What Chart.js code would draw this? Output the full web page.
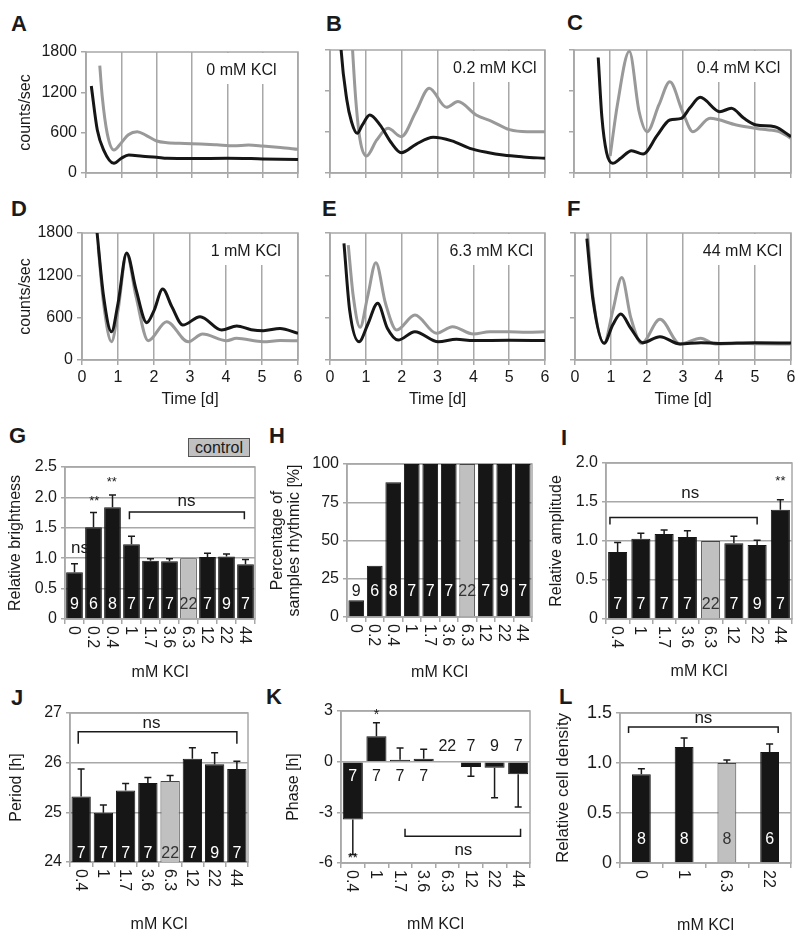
<!DOCTYPE html>
<html>
<head>
<meta charset="utf-8">
<title>KCl luminescence panels</title>
<script src="https://cdn.jsdelivr.net/npm/chart.js@4.4.1/dist/chart.umd.min.js"></script>
<style>
  body { margin: 0; background: #fff; }
  #page { position: relative; width: 800px; height: 937px; overflow: hidden; font-family: "Liberation Sans", Arial, sans-serif; color: #1a1a1a; }
  #page canvas { position: absolute; left: 0; top: 0; }
  .letter { position: absolute; font-size: 22px; line-height: 22px; font-weight: bold; }
  .control { position: absolute; left: 188px; top: 438px; width: 60px; height: 17px; line-height: 17px; background: #c0c0c0; border: 1px solid #555; font-size: 16px; text-align: center; }
</style>
</head>
<body>
<div id="page">
  <div class="letter" style="left:11px;top:13px">A</div>
  <div class="letter" style="left:326px;top:13px">B</div>
  <div class="letter" style="left:567px;top:12px">C</div>
  <div class="letter" style="left:11px;top:198px">D</div>
  <div class="letter" style="left:322px;top:198px">E</div>
  <div class="letter" style="left:567px;top:198px">F</div>
  <div class="letter" style="left:9px;top:425px">G</div>
  <div class="letter" style="left:269px;top:425px">H</div>
  <div class="letter" style="left:561px;top:427px">I</div>
  <div class="letter" style="left:11px;top:687px">J</div>
  <div class="letter" style="left:266px;top:686px">K</div>
  <div class="letter" style="left:559px;top:686px">L</div>
  <div class="control">control</div>
</div>
<script>
const W = 800, H = 937;
const FONT = "'Liberation Sans', Arial, sans-serif";
const INK = "#1a1a1a";
const GRID = "#a8a8a8";
const GRAY_LINE = "#999999";
const BLACK_LINE = "#161616";
const BAR = "#161616";
const CONTROL = "#c0c0c0";

// time courses: days / counts per sec, gray and black trace per panel
const aGrayT = [0.39, 0.46, 0.6, 0.79, 1.0, 1.2, 1.45, 1.7, 2.0, 2.3, 2.8, 3.24, 3.7, 4.18, 4.6, 5.0, 5.5, 6.0];
const aGrayV = [1596, 1135, 590, 342, 450, 570, 615, 560, 476, 451, 440, 432, 420, 406, 415, 402, 380, 352];
const aBlackT = [0.15, 0.32, 0.5, 0.79, 1.0, 1.21, 1.6, 2.0, 2.3, 3.0, 4.0, 5.0, 6.0];
const aBlackV = [1294, 640, 342, 144, 220, 268, 250, 235, 219, 215, 220, 210, 200];

const bGrayT = [0.6, 0.63, 0.72, 0.84, 1.02, 1.3, 1.62, 1.99, 2.4, 2.77, 3.25, 3.57, 4.08, 4.5, 5.01, 5.5, 6.0];
const bGrayV = [2100, 1800, 1068, 483, 249, 480, 654, 532, 900, 1240, 962, 1045, 848, 760, 634, 604, 604];
const bBlackT = [0.28, 0.31, 0.47, 0.6, 0.76, 0.9, 1.11, 1.4, 1.7, 1.99, 2.4, 2.88, 3.4, 3.9, 4.4, 4.83, 5.4, 6.0];
const bBlackV = [2100, 1800, 1068, 750, 580, 700, 848, 700, 450, 297, 420, 522, 470, 361, 300, 263, 235, 215];

const cGrayT = [1.0, 1.2, 1.53, 1.8, 2.02, 2.35, 2.65, 3.0, 3.29, 3.76, 4.49, 5.22, 5.7, 6.0];
const cGrayV = [250, 1000, 1780, 900, 604, 1000, 1334, 900, 604, 800, 702, 639, 600, 507];
const cBlackT = [0.67, 0.77, 0.9, 1.07, 1.3, 1.59, 1.91, 2.3, 2.65, 2.97, 3.2, 3.49, 4.03, 4.35, 4.7, 5.04, 5.55, 6.0];
const cBlackV = [1690, 824, 300, 142, 220, 327, 278, 550, 776, 800, 950, 1108, 898, 946, 800, 702, 677, 532];

const dGrayT = [0.45, 0.6, 0.82, 1.0, 1.24, 1.5, 1.84, 2.35, 2.95, 3.35, 4.02, 4.29, 5.04, 5.5, 6.0];
const dGrayV = [1600, 800, 259, 700, 1507, 900, 274, 543, 259, 368, 274, 307, 259, 275, 274];
const dBlackT = [0.41, 0.6, 0.82, 1.0, 1.24, 1.5, 1.8, 2.0, 2.24, 2.5, 2.8, 3.28, 3.88, 4.3, 4.7, 5.04, 5.5, 6.0];
const dBlackV = [1850, 900, 401, 800, 1516, 1000, 529, 700, 1006, 750, 496, 614, 425, 482, 430, 415, 447, 378];

const eGrayT = [0.51, 0.65, 0.84, 1.05, 1.28, 1.55, 1.86, 2.37, 2.97, 3.42, 4.0, 4.46, 5.0, 5.5, 6.0];
const eGrayV = [1629, 900, 463, 900, 1379, 800, 425, 637, 378, 472, 368, 401, 400, 395, 401];
const eBlackT = [0.39, 0.55, 0.81, 1.05, 1.33, 1.6, 1.9, 2.37, 3.02, 3.53, 4.0, 5.0, 6.0];
const eBlackV = [1653, 700, 259, 500, 803, 450, 283, 401, 259, 293, 275, 280, 275];

const fGrayT = [0.34, 0.5, 0.81, 1.05, 1.3, 1.55, 1.85, 2.36, 2.92, 3.49, 3.9, 4.5, 5.0, 6.0];
const fGrayV = [1842, 900, 236, 700, 1171, 600, 236, 576, 227, 307, 227, 235, 230, 227];
const fBlackT = [0.33, 0.5, 0.81, 1.05, 1.27, 1.55, 1.88, 2.36, 2.92, 3.5, 4.0, 5.0, 6.0];
const fBlackV = [1719, 850, 236, 500, 652, 450, 245, 331, 227, 245, 235, 245, 240];

const countTicks = [0, 600, 1200, 1800];

// bar panels
const kclAll = ["0", "0.2", "0.4", "1", "1.7", "3.6", "6.3", "12", "22", "44"];
const kclRhythmic = ["0.4", "1", "1.7", "3.6", "6.3", "12", "22", "44"];
const kclDensity = ["0", "1", "6.3", "22"];

const brightness = [0.77, 1.51, 1.84, 1.23, 0.96, 0.95, 1.0, 1.02, 1.03, 0.9];
const brightnessErr = [0.14, 0.24, 0.2, 0.13, 0.03, 0.04, 0, 0.06, 0.04, 0.08];
const brightnessN = [9, 6, 8, 7, 7, 7, 22, 7, 9, 7];

const rhythmicPct = [11, 33.5, 88, 100, 100, 100, 100, 100, 100, 100];
const rhythmicN = [9, 6, 8, 7, 7, 7, 22, 7, 9, 7];

const amplitude = [0.86, 1.03, 1.09, 1.05, 1.0, 0.97, 0.95, 1.4];
const amplitudeErr = [0.12, 0.07, 0.05, 0.08, 0, 0.09, 0.06, 0.13];
const period = [25.32, 24.99, 25.44, 25.59, 25.63, 26.08, 25.97, 25.87];
const periodErr = [0.55, 0.16, 0.14, 0.11, 0.11, 0.22, 0.23, 0.16];
const phase = [-3.43, 1.5, 0.12, 0.18, -0.05, -0.32, -0.36, -0.75];
const phaseErr = [2.06, 0.81, 0.69, 0.55, 0, 0.55, 1.77, 1.93];
const phaseNAt = [-0.9, -0.9, -0.9, -0.9, 0.87, 0.87, 0.87, 0.87];
const rhythmicN8 = [7, 7, 7, 7, 22, 7, 9, 7];

const density = [0.887, 1.16, 1.0, 1.11];
const densityErr = [0.055, 0.09, 0.03, 0.08];
const densityN = [8, 8, 8, 6];

const pts = (t, v) => t.map((x, i) => ({ x, y: v[i] }));
const font = size => ({ family: FONT, size });

function panelCanvas() {
  const c = document.createElement("canvas");
  c.width = W;
  c.height = H;
  document.getElementById("page").appendChild(c);
  return c;
}

// plot box is fixed in page pixels; axis sizes are forced so nothing shifts
function fixedLayout(box) {
  return {
    padding: {
      left: box.l - box.yw,
      top: box.t,
      right: W - box.r,
      bottom: H - box.b - box.xh
    }
  };
}

const fitX = h => s => { s.height = h; s.paddingLeft = 0; s.paddingRight = 0; };
const fitY = w => s => { s.width = w; s.paddingTop = 0; s.paddingBottom = 0; };

const framePlugin = {
  id: "frame",
  beforeDatasetsDraw(chart) {
    const { ctx, chartArea: a } = chart;
    ctx.save();
    ctx.strokeStyle = GRID;
    ctx.lineWidth = 1.5;
    ctx.strokeRect(a.left, a.top, a.right - a.left, a.bottom - a.top);
    ctx.restore();
  }
};

function boxLabel(text, day) {
  return {
    id: "boxLabel",
    beforeDatasetsDraw(chart) {
      const { ctx, chartArea: a, scales: { x } } = chart;
      ctx.save();
      ctx.font = "16px " + FONT;
      const w = ctx.measureText(text).width;
      const cx = x.getPixelForValue(day);
      const left = cx - w / 2 - 8;
      ctx.fillStyle = "#fff";
      ctx.fillRect(left, a.top + 1, a.right - left - 1, 31);
      ctx.fillStyle = INK;
      ctx.textAlign = "center";
      ctx.textBaseline = "middle";
      ctx.fillText(text, cx, a.top + 19);
      ctx.restore();
    }
  };
}

function errorBars(err) {
  return {
    id: "errorBars",
    afterDatasetsDraw(chart) {
      const { ctx, scales: { y } } = chart;
      const vals = chart.data.datasets[0].data;
      ctx.save();
      ctx.strokeStyle = INK;
      ctx.lineWidth = 1.5;
      chart.getDatasetMeta(0).data.forEach((bar, i) => {
        if (!err[i]) return;
        const v = vals[i];
        const tip = y.getPixelForValue(v + (v < 0 ? -err[i] : err[i]));
        ctx.beginPath();
        ctx.moveTo(bar.x, bar.y);
        ctx.lineTo(bar.x, tip);
        ctx.moveTo(bar.x - 3.5, tip);
        ctx.lineTo(bar.x + 3.5, tip);
        ctx.stroke();
      });
      ctx.restore();
    }
  };
}

function countLabels(n, at) {
  return {
    id: "counts",
    afterDatasetsDraw(chart) {
      const { ctx, scales: { y } } = chart;
      ctx.save();
      ctx.font = "16px " + FONT;
      ctx.textAlign = "center";
      ctx.textBaseline = "middle";
      chart.getDatasetMeta(0).data.forEach((bar, i) => {
        const ty = y.getPixelForValue(Array.isArray(at) ? at[i] : at);
        const top = Math.min(bar.y, bar.base), bot = Math.max(bar.y, bar.base);
        const inside = ty > top + 6 && ty < bot - 6;
        ctx.fillStyle = !inside ? INK : (chart.data.labels[i] === "6.3" ? "#333" : "#fff");
        ctx.fillText(String(n[i]), bar.x, ty);
      });
      ctx.restore();
    }
  };
}

function sigMarks(marks, brackets) {
  return {
    id: "sig",
    afterDatasetsDraw(chart) {
      const { ctx, scales: { x, y } } = chart;
      ctx.save();
      ctx.fillStyle = INK;
      ctx.strokeStyle = INK;
      ctx.lineWidth = 1.5;
      ctx.textAlign = "center";
      ctx.textBaseline = "middle";
      marks.forEach(m => {
        ctx.font = m.size + "px " + FONT;
        ctx.fillText(m.text, x.getPixelForValue(m.x), y.getPixelForValue(m.y));
      });
      brackets.forEach(b => {
        const x1 = x.getPixelForValue(b.x1), x2 = x.getPixelForValue(b.x2);
        const yy = y.getPixelForValue(b.y), ye = y.getPixelForValue(b.yEnd);
        ctx.beginPath();
        ctx.moveTo(x1, ye);
        ctx.lineTo(x1, yy);
        ctx.lineTo(x2, yy);
        ctx.lineTo(x2, ye);
        ctx.stroke();
      });
      ctx.restore();
    }
  };
}

// category labels read top to bottom, turned clockwise
function rotatedTicks(labels) {
  return {
    id: "rotTicks",
    afterDraw(chart) {
      const { ctx, chartArea: a, scales: { x } } = chart;
      ctx.save();
      ctx.font = "16px " + FONT;
      ctx.fillStyle = INK;
      ctx.textAlign = "left";
      ctx.textBaseline = "middle";
      labels.forEach((lab, i) => {
        ctx.save();
        ctx.translate(x.getPixelForTick(i) - 1, a.bottom + 7);
        ctx.rotate(Math.PI / 2);
        ctx.fillText(lab, 0, 0);
        ctx.restore();
      });
      ctx.restore();
    }
  };
}

function linePanel(o) {
  new Chart(panelCanvas(), {
    type: "line",
    data: {
      datasets: [
        { data: pts(o.blackT, o.blackV), borderColor: BLACK_LINE },
        { data: pts(o.grayT, o.grayV), borderColor: GRAY_LINE }
      ]
    },
    options: {
      responsive: false,
      animation: false,
      devicePixelRatio: 1,
      events: [],
      layout: fixedLayout(o.box),
      elements: {
        line: { borderWidth: 3, cubicInterpolationMode: "monotone" },
        point: { radius: 0 }
      },
      plugins: { legend: { display: false }, tooltip: { enabled: false } },
      scales: {
        x: {
          type: "linear",
          min: 0,
          max: 6,
          afterFit: fitX(o.box.xh),
          ticks: { stepSize: 1, display: o.showX, font: font(16), color: INK, padding: 3 },
          grid: { color: GRID, lineWidth: 1.5, tickLength: 5 },
          border: { color: GRID, width: 1.5 },
          title: { display: o.showX, text: "Time [d]", font: font(16), color: INK, padding: 0 }
        },
        y: {
          min: 0,
          max: 1800,
          afterFit: fitY(o.box.yw),
          afterBuildTicks: s => { s.ticks = countTicks.map(value => ({ value })); },
          ticks: { display: o.showY, font: font(16), color: INK, padding: 4, callback: v => String(v) },
          grid: { drawOnChartArea: false, color: GRID, lineWidth: 1.5, tickLength: 5 },
          border: { color: GRID, width: 1.5 },
          title: { display: o.showY, text: "counts/sec", font: font(16), color: INK, padding: 0 }
        }
      }
    },
    plugins: [boxLabel(o.label, o.labelDay), framePlugin]
  });
}

function barPanel(o) {
  const isControl = o.labels.map(l => l === "6.3");
  new Chart(panelCanvas(), {
    type: "bar",
    data: {
      labels: o.labels,
      datasets: [{
        data: o.values,
        backgroundColor: isControl.map(c => (c ? CONTROL : BAR)),
        borderColor: isControl.map(c => (c ? "#444" : BAR)),
        borderWidth: 1,
        barPercentage: o.barPct,
        categoryPercentage: 1
      }]
    },
    options: {
      responsive: false,
      animation: false,
      devicePixelRatio: 1,
      events: [],
      layout: fixedLayout(o.box),
      plugins: { legend: { display: false }, tooltip: { enabled: false } },
      scales: {
        x: {
          afterFit: fitX(o.box.xh),
          ticks: { display: false },
          grid: { offset: true, drawOnChartArea: false, color: GRID, lineWidth: 1.5, tickLength: 5 },
          border: { color: GRID, width: 1.5 },
          title: { display: true, text: "mM KCl", font: font(16), color: INK, padding: 0 }
        },
        y: {
          min: o.min,
          max: o.max,
          afterFit: fitY(o.box.yw),
          ticks: { stepSize: o.step, font: font(o.tickSize), color: INK, padding: 4, callback: o.fmt },
          grid: { color: GRID, lineWidth: 1.5, tickLength: 4 },
          border: { color: GRID, width: 1.5 },
          title: {
            display: true, text: o.title, font: { family: FONT, size: o.titleSize, lineHeight: 1.05 },
            color: INK, padding: 0
          }
        }
      }
    },
    plugins: [
      framePlugin,
      errorBars(o.err),
      countLabels(o.n, o.nAt),
      sigMarks(o.marks, o.brackets),
      rotatedTicks(o.labels)
    ]
  });
}

const oneDecimal = v => (v === 0 ? "0" : v.toFixed(1));

linePanel({ box: { l: 86, t: 52, r: 298, b: 173, yw: 69.6, xh: 6 }, showX: false, showY: true,
  grayT: aGrayT, grayV: aGrayV, blackT: aBlackT, blackV: aBlackV, label: "0 mM KCl", labelDay: 4.4 });
linePanel({ box: { l: 330, t: 50, r: 545, b: 173, yw: 6, xh: 6 }, showX: false, showY: false,
  grayT: bGrayT, grayV: bGrayV, blackT: bBlackT, blackV: bBlackV, label: "0.2 mM KCl", labelDay: 4.6 });
linePanel({ box: { l: 574, t: 50, r: 791, b: 173, yw: 6, xh: 6 }, showX: false, showY: false,
  grayT: cGrayT, grayV: cGrayV, blackT: cBlackT, blackV: cBlackV, label: "0.4 mM KCl", labelDay: 4.55 });
linePanel({ box: { l: 82, t: 233, r: 298, b: 360, yw: 65.6, xh: 49.6 }, showX: true, showY: true,
  grayT: dGrayT, grayV: dGrayV, blackT: dBlackT, blackV: dBlackV, label: "1 mM KCl", labelDay: 4.55 });
linePanel({ box: { l: 330, t: 233, r: 545, b: 360, yw: 6, xh: 49.6 }, showX: true, showY: false,
  grayT: eGrayT, grayV: eGrayV, blackT: eBlackT, blackV: eBlackV, label: "6.3 mM KCl", labelDay: 4.5 });
linePanel({ box: { l: 575, t: 233, r: 791, b: 360, yw: 6, xh: 49.6 }, showX: true, showY: false,
  grayT: fGrayT, grayV: fGrayV, blackT: fBlackT, blackV: fBlackV, label: "44 mM KCl", labelDay: 4.65 });

barPanel({
  box: { l: 65, t: 467, r: 255, b: 619, yw: 57.6, xh: 63.6 },
  labels: kclAll, values: brightness, err: brightnessErr, n: brightnessN, nAt: 0.23,
  min: 0, max: 2.5, step: 0.5, fmt: oneDecimal, tickSize: 16, title: "Relative brightness", titleSize: 16, barPct: 0.88,
  marks: [
    { x: 0.29, y: 1.16, text: "ns", size: 17 },
    { x: 1.04, y: 1.93, text: "**", size: 13 },
    { x: 1.96, y: 2.24, text: "**", size: 13 },
    { x: 5.9, y: 1.93, text: "ns", size: 17 }
  ],
  brackets: [{ x1: 2.89, x2: 8.94, y: 1.76, yEnd: 1.64 }]
});

barPanel({
  box: { l: 347, t: 464, r: 532, b: 617, yw: 77.4, xh: 65.6 },
  labels: kclAll, values: rhythmicPct, err: [], n: rhythmicN, nAt: 16.4,
  min: 0, max: 100, step: 25, tickSize: 16, title: ["Percentage of", "samples rhythmic [%]"], titleSize: 16, barPct: 0.85,
  marks: [], brackets: []
});

barPanel({
  box: { l: 606, t: 463, r: 792, b: 619, yw: 57.6, xh: 62.6 },
  labels: kclRhythmic, values: amplitude, err: amplitudeErr, n: rhythmicN8, nAt: 0.18,
  min: 0, max: 2, step: 0.5, fmt: oneDecimal, tickSize: 16, title: "Relative amplitude", titleSize: 16, barPct: 0.82,
  marks: [
    { x: 3.12, y: 1.61, text: "ns", size: 17 },
    { x: 7, y: 1.76, text: "**", size: 13 }
  ],
  brackets: [{ x1: -0.33, x2: 6, y: 1.3, yEnd: 1.21 }]
});

barPanel({
  box: { l: 70, t: 713, r: 248, b: 862, yw: 61.5, xh: 72 },
  labels: kclRhythmic, values: period, err: periodErr, n: rhythmicN8, nAt: 24.17,
  min: 24, max: 27, step: 1, tickSize: 16, title: "Period [h]", titleSize: 16, barPct: 0.87,
  marks: [{ x: 3.16, y: 26.79, text: "ns", size: 17 }],
  brackets: [{ x1: -0.13, x2: 7, y: 26.62, yEnd: 26.38 }]
});

barPanel({
  box: { l: 341, t: 711, r: 530, b: 863, yw: 55.5, xh: 71 },
  labels: kclRhythmic, values: phase, err: phaseErr, n: rhythmicN8, nAt: phaseNAt,
  min: -6, max: 3, step: 3, tickSize: 16, title: "Phase [h]", titleSize: 16, barPct: 0.85,
  marks: [
    { x: 1, y: 2.74, text: "*", size: 14 },
    { x: 0, y: -5.74, text: "**", size: 13 },
    { x: 4.68, y: -5.25, text: "ns", size: 17 }
  ],
  brackets: [{ x1: 2.21, x2: 7.1, y: -4.42, yEnd: -3.97 }]
});

barPanel({
  box: { l: 620, t: 713, r: 791, b: 863, yw: 66, xh: 72 },
  labels: kclDensity, values: density, err: densityErr, n: densityN, nAt: 0.23,
  min: 0, max: 1.5, step: 0.5, fmt: oneDecimal, tickSize: 18, title: "Relative cell density", titleSize: 17, barPct: 0.44,
  marks: [{ x: 1.45, y: 1.45, text: "ns", size: 17 }],
  brackets: [{ x1: -0.3, x2: 3.2, y: 1.36, yEnd: 1.3 }]
});
</script>
</body>
</html>
